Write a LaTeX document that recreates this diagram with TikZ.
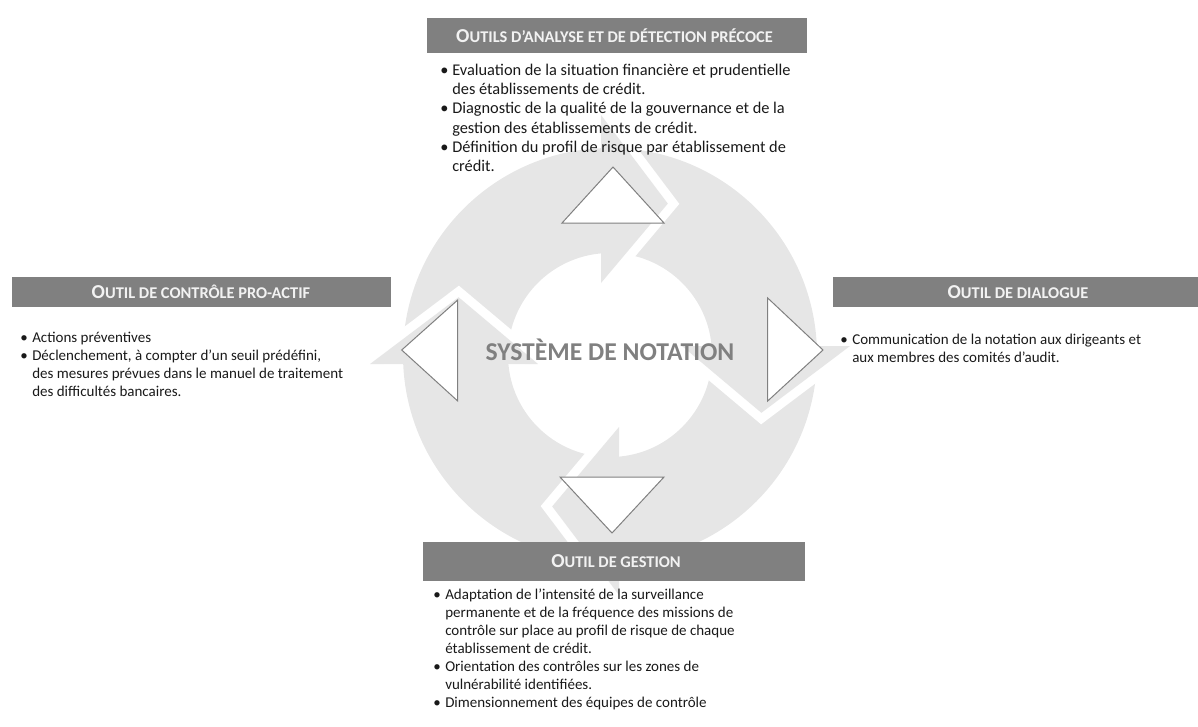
\documentclass[tikz,border=0pt]{standalone}
\usepackage{fontspec}
\setmainfont{Carlito}
\definecolor{ringgray}{RGB}{230,230,230}
\definecolor{boxgray}{RGB}{128,128,128}
\definecolor{titlefg}{RGB}{242,242,242}
\definecolor{bodyfg}{RGB}{25,25,25}
% small-capital style headings: large initial, smaller capitals after it
\newcommand{\smcap}[2]{{\fontsize{14.8}{15}\selectfont #1}{\fontsize{12.3}{15}\selectfont #2}}
\newcommand{\itm}{\makebox[9pt][l]{\textbullet}}
\newcommand{\cont}{\hspace*{9pt}}
\begin{document}
\begin{tikzpicture}[x=0.75pt,y=0.75pt,
  titlebox/.style={fill=boxgray, draw=none, inner sep=0pt},
  titletext/.style={text=titlefg, font=\bfseries, inner sep=0pt},
  listtext/.style={anchor=base west, inner sep=0pt, text=bodyfg},
  pointer/.style={fill=white, draw=boxgray, line width=0.75pt, line join=miter},
  gapline/.style={draw=white, line width=13.5pt, line join=miter, line cap=butt},
  headfill/.style={fill=ringgray, draw=none}]
\useasboundingbox (0,0) rectangle (1198,-726);

% ---- cycle of four curved arrows ----
\begin{scope}[shift={(610,-355)}]
  \fill[ringgray, even odd rule] (0,0) circle[radius=207] (0,0) circle[radius=102];
  \foreach \a in {90,0,270,180}{
    \begin{scope}[rotate=\a-90]
      \path[gapline] (-9,240) -- (57.8,151.4) -- (-9,72);
      \path[headfill] (-9,72) -- (-9,240) -- (57.8,151.4) -- cycle;
    \end{scope}
  }
\end{scope}

% ---- direction pointers ----
\path[pointer] (613,-167) -- (664,-223) -- (562,-223) -- cycle;
\path[pointer] (823,-350) -- (767.7,-401) -- (767.7,-298) -- cycle;
\path[pointer] (612,-533) -- (560,-477) -- (664,-477) -- cycle;
\path[pointer] (401.7,-350) -- (457.7,-300) -- (457.7,-401) -- cycle;

% ---- centre label ----
\node[text=boxgray, font=\bfseries\fontsize{19.25}{23}\selectfont, inner sep=0pt] (core) at (610,-350) {SYSTÈME DE NOTATION};

% ---- heading bars ----
\node[titlebox, minimum width=285pt, minimum height=26.25pt] (topbox) at (617,-35.5) {};
\node[titletext] (toptitle) at (614.5,-35.5) {\smcap{O}{UTILS D’ANALYSE ET DE DÉTECTION PRÉCOCE}};

\node[titlebox, minimum width=284.25pt, minimum height=22.5pt] (leftbox) at (201.5,-292) {};
\node[titletext] (lefttitle) at (201,-292) {\smcap{O}{UTIL DE CONTRÔLE PRO-ACTIF}};

\node[titlebox, minimum width=273.75pt, minimum height=22.5pt] (rightbox) at (1015.5,-292) {};
\node[titletext] (righttitle) at (1018,-292) {\smcap{O}{UTIL DE DIALOGUE}};

\node[titlebox, minimum width=286.5pt, minimum height=29.25pt] (bottombox) at (614,-561.5) {};
\node[titletext] (bottomtitle) at (616,-561.5) {\smcap{O}{UTIL DE GESTION}};

% ---- bullet lists ----
\node[listtext, font=\fontsize{12.27}{14.5}\selectfont] (toplist) at (440,-75) {%
\begin{tabular}[t]{@{}l@{}}
\itm Evaluation de la situation financière et prudentielle\\
\cont des établissements de crédit.\\
\itm Diagnostic de la qualité de la gouvernance et de la\\
\cont gestion des établissements de crédit.\\
\itm Définition du profil de risque par établissement de\\
\cont crédit.
\end{tabular}};

\node[listtext, font=\fontsize{11.25}{13.5}\selectfont] (leftlist) at (20,-342.7) {%
\begin{tabular}[t]{@{}l@{}}
\itm Actions préventives\\
\itm Déclenchement, à compter d’un seuil prédéfini,\\
\cont des mesures prévues dans le manuel de traitement\\
\cont des difficultés bancaires.
\end{tabular}};

\node[listtext, font=\fontsize{11.25}{13.5}\selectfont] (rightlist) at (840,-344) {%
\begin{tabular}[t]{@{}l@{}}
\itm Communication de la notation aux dirigeants et\\
\cont aux membres des comités d’audit.
\end{tabular}};

\node[listtext, font=\fontsize{11.25}{13.5}\selectfont] (bottomlist) at (433,-599) {%
\begin{tabular}[t]{@{}l@{}}
\itm Adaptation de l’intensité de la surveillance\\
\cont permanente et de la fréquence des missions de\\
\cont contrôle sur place au profil de risque de chaque\\
\cont établissement de crédit.\\
\itm Orientation des contrôles sur les zones de\\
\cont vulnérabilité identifiées.\\
\itm Dimensionnement des équipes de contrôle
\end{tabular}};
\end{tikzpicture}
\end{document}
